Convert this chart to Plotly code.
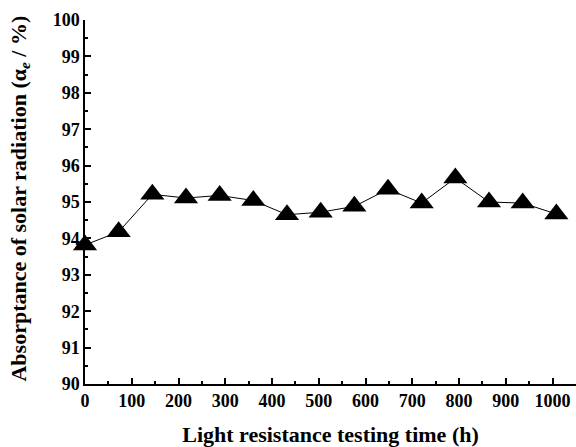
import plotly.graph_objects as go

time_h = [0, 72, 144, 216, 288, 360, 432, 504, 576, 648, 720, 792, 864, 936, 1008]
absorptance = [93.82, 94.18, 95.21, 95.11, 95.18, 95.04, 94.65, 94.72, 94.88,
               95.35, 94.97, 95.66, 95.0, 94.97, 94.67]

x_ticks = [0, 100, 200, 300, 400, 500, 600, 700, 800, 900, 1000]
y_ticks = [90, 91, 92, 93, 94, 95, 96, 97, 98, 99, 100]

font_family = "Liberation Serif"

fig = go.Figure()
fig.add_trace(go.Scatter(
    x=time_h, y=absorptance, mode="lines+markers",
    line=dict(color="black", width=1),
    marker=dict(symbol="triangle-up", size=21, color="black"),
    cliponaxis=False, showlegend=False,
))

axis_common = dict(
    showline=True, linecolor="black", linewidth=1.5,
    ticks="inside", ticklen=6, tickwidth=1.5, tickcolor="black",
    showgrid=False, zeroline=False,
)

tick_font = dict(size=18, family=font_family, weight=700)

fig.update_layout(
    width=576, height=447,
    margin=dict(l=85, r=0, t=20, b=63),
    plot_bgcolor="white", paper_bgcolor="white",
    font=dict(family=font_family, color="black"),
    xaxis=dict(
        range=[0, 1050], tickvals=x_ticks,
        ticktext=["<b>%d</b>" % v for v in x_ticks],
        tickfont=tick_font,
        minor=dict(dtick=50, ticks="inside", ticklen=3, tickwidth=1.5, tickcolor="black"),
        title=dict(text="<b>Light resistance testing time (h)</b>",
                   font=dict(size=22, family=font_family), standoff=18),
        **axis_common,
    ),
    xaxis2=dict(
        range=[0, 1050], overlaying="x", side="top", tickvals=x_ticks,
        showticklabels=False,
        minor=dict(dtick=50, ticks="inside", ticklen=3, tickwidth=1.5, tickcolor="black"),
        **axis_common,
    ),
    yaxis=dict(
        range=[90, 100], tickvals=y_ticks,
        ticktext=["<b>%d</b>" % v for v in y_ticks],
        tickfont=tick_font,
        minor=dict(dtick=0.5, ticks="inside", ticklen=3, tickwidth=1.5, tickcolor="black"),
        **axis_common,
    ),
    annotations=[dict(
        text="<b>Absorptance of solar radiation (α<sub><i>e</i></sub> / %)</b>",
        font=dict(size=22, family=font_family, color="black"),
        textangle=-90, xref="paper", yref="paper",
        x=-0.132, y=0.51, xanchor="center", yanchor="middle",
        showarrow=False,
    )],
)

fig.write_html("out.html")
